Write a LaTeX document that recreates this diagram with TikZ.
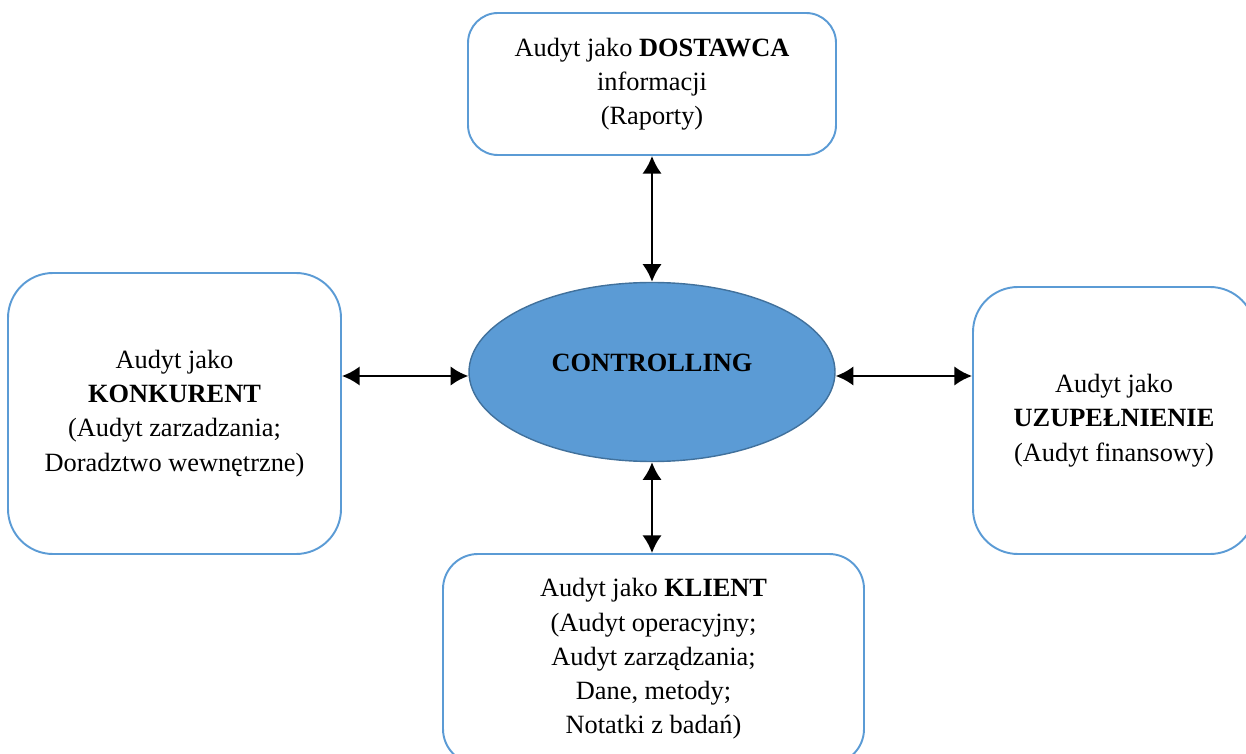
\documentclass[tikz,border=0pt]{standalone}
\usepackage{fontspec}
\setmainfont{Liberation Serif}
\usetikzlibrary{shapes.geometric, arrows.meta}
\definecolor{officeblue}{HTML}{5B9BD5}
\definecolor{officeedge}{HTML}{41719C}

\begin{document}
\begin{tikzpicture}[
    rolebox/.style={draw=officeblue, line width=1.1pt, rounded corners=0.9cm, align=center,
        inner sep=0pt, font=\fontsize{15}{19.5}\selectfont},
    hub/.style={ellipse, draw=officeedge, fill=officeblue, line width=0.8pt, inner sep=0pt,
        minimum width=7.32cm, minimum height=3.58cm, font=\fontsize{15}{19}\selectfont\bfseries},
    link/.style={<->, >={Latex[length=10pt,width=11pt]}, line width=1.5pt}]
    \useasboundingbox (0,0) rectangle (24.92,-15.08);
    \clip (0,0) rectangle (24.92,-15.08);
    % centre
    \node [hub, text depth=0.36cm] (ctrl) at (13.04,-7.44) {CONTROLLING};
    % four roles of the audit
    \node [rolebox, rounded corners=0.6cm, minimum width=7.36cm, minimum height=2.84cm] (dost) at (13.04,-1.68)
        {Audyt jako \textbf{DOSTAWCA}\\ informacji\\ (Raporty)};
    \node [rolebox, minimum width=6.66cm, minimum height=5.62cm] (konk) at (3.49,-8.27)
        {Audyt jako\\ \textbf{KONKURENT}\\ (Audyt zarzadzania;\\ Doradztwo wewnętrzne)};
    \node [rolebox, minimum width=5.64cm, minimum height=5.34cm] (uzup) at (22.28,-8.41)
        {Audyt jako\\ \textbf{UZUPEŁNIENIE}\\ (Audyt finansowy)};
    \node [rolebox, rounded corners=0.7cm, minimum width=8.42cm, minimum height=4.2cm] (klient) at (13.07,-13.18)
        {Audyt jako \textbf{KLIENT}\\ (Audyt operacyjny;\\ Audyt zarządzania;\\ Dane, metody;\\ Notatki z badań)};
    % arrows
    \draw [link] (ctrl.north) -- (ctrl.north |- dost.south);
    \draw [link] (ctrl.south) -- (ctrl.south |- klient.north);
    \draw [link] ([yshift=-0.08cm]ctrl.west) -- ([yshift=-0.08cm]ctrl.west -| konk.east);
    \draw [link] ([yshift=-0.08cm]ctrl.east) -- ([yshift=-0.08cm]ctrl.east -| uzup.west);
\end{tikzpicture}
\end{document}
